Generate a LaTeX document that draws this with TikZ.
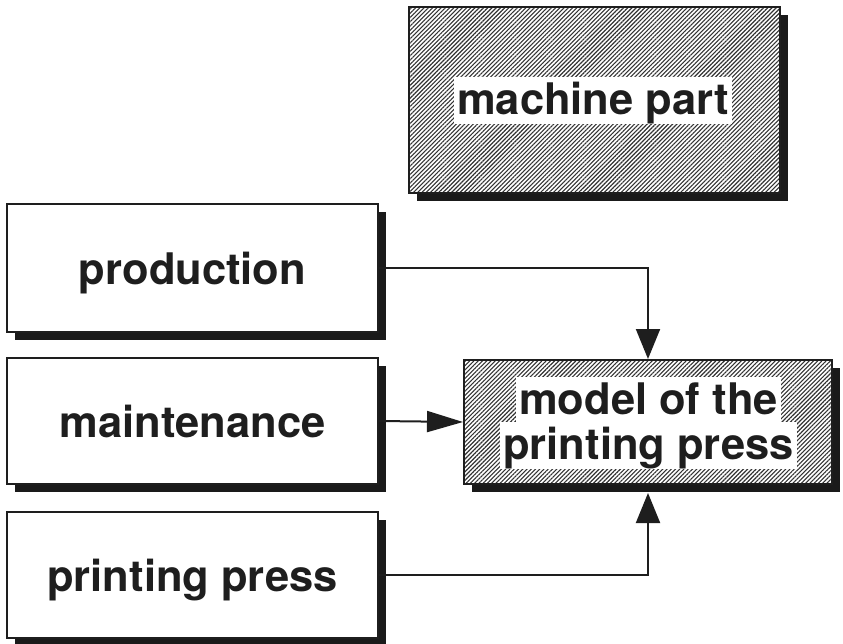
\documentclass[tikz,border=0pt]{standalone}
\usepackage{fontspec}
\setmainfont{TeX Gyre Heros}
\usetikzlibrary{arrows.meta,patterns.meta,shadows}

\definecolor{ink}{HTML}{1E1E1E}
\definecolor{shade}{HTML}{1A1A1A}

\tikzset{
  boxfont/.style={font=\bfseries\fontsize{43.5}{44}\selectfont},
  plainbox/.style={draw=ink, line width=2pt, fill=white, inner sep=0pt,
    minimum width=371pt, boxfont, text=ink,
    text height=35pt, text depth=3pt,
    drop shadow={shadow xshift=8pt, shadow yshift=-8pt, fill=shade, opacity=1}},
  hatchbox/.style={draw=ink, line width=2pt, inner sep=0pt,
    drop shadow={shadow xshift=8pt, shadow yshift=-8pt, fill=shade, opacity=1},
    preaction={fill=white},
    pattern={Lines[angle=45,distance=3pt,line width=1.1pt]}, pattern color=black!80},
  whitetext/.style={fill=white, boxfont, text=ink, inner xsep=3pt, inner ysep=0pt,
    text height=37.4pt, text depth=9.1pt},
  flow/.style={draw=ink, line width=2pt, -{Triangle[length=30pt,width=24pt]}},
}

\begin{document}
\begin{tikzpicture}[x=1pt, y=-1pt]
  \useasboundingbox (0,0) rectangle (843,644);

  % source boxes on the left
  \node[plainbox, minimum height=128pt] (prod)  at (192.5,268) {production};
  \node[plainbox, minimum height=126pt] (maint) at (192.5,421) {maintenance};
  \node[plainbox, minimum height=126pt] (press) at (192.5,575) {printing press};

  % hatched boxes
  \node[hatchbox, minimum width=371pt, minimum height=186pt] (part) at (594.5,100) {};
  \node[whitetext] (partlbl) at (593,100.5) {machine part};

  \node[hatchbox, minimum width=368pt, minimum height=124pt] (model) at (648,422) {};
  \node[whitetext] (mline1) at (648.5,400) {model of the};
  \node[whitetext] (mline2) at (648.5,445.5) {printing press};

  % bottom edge of the model's shadow
  \coordinate (modelshadow) at ([yshift=-8pt]model.south);

  % connectors
  \draw[flow] (prod.east) -| (model.north);
  \draw[flow, -{Triangle[length=36pt,width=21pt]}] (maint.east) -- (model.west);
  \draw[flow] (press.east) -| (modelshadow);
\end{tikzpicture}
\end{document}
